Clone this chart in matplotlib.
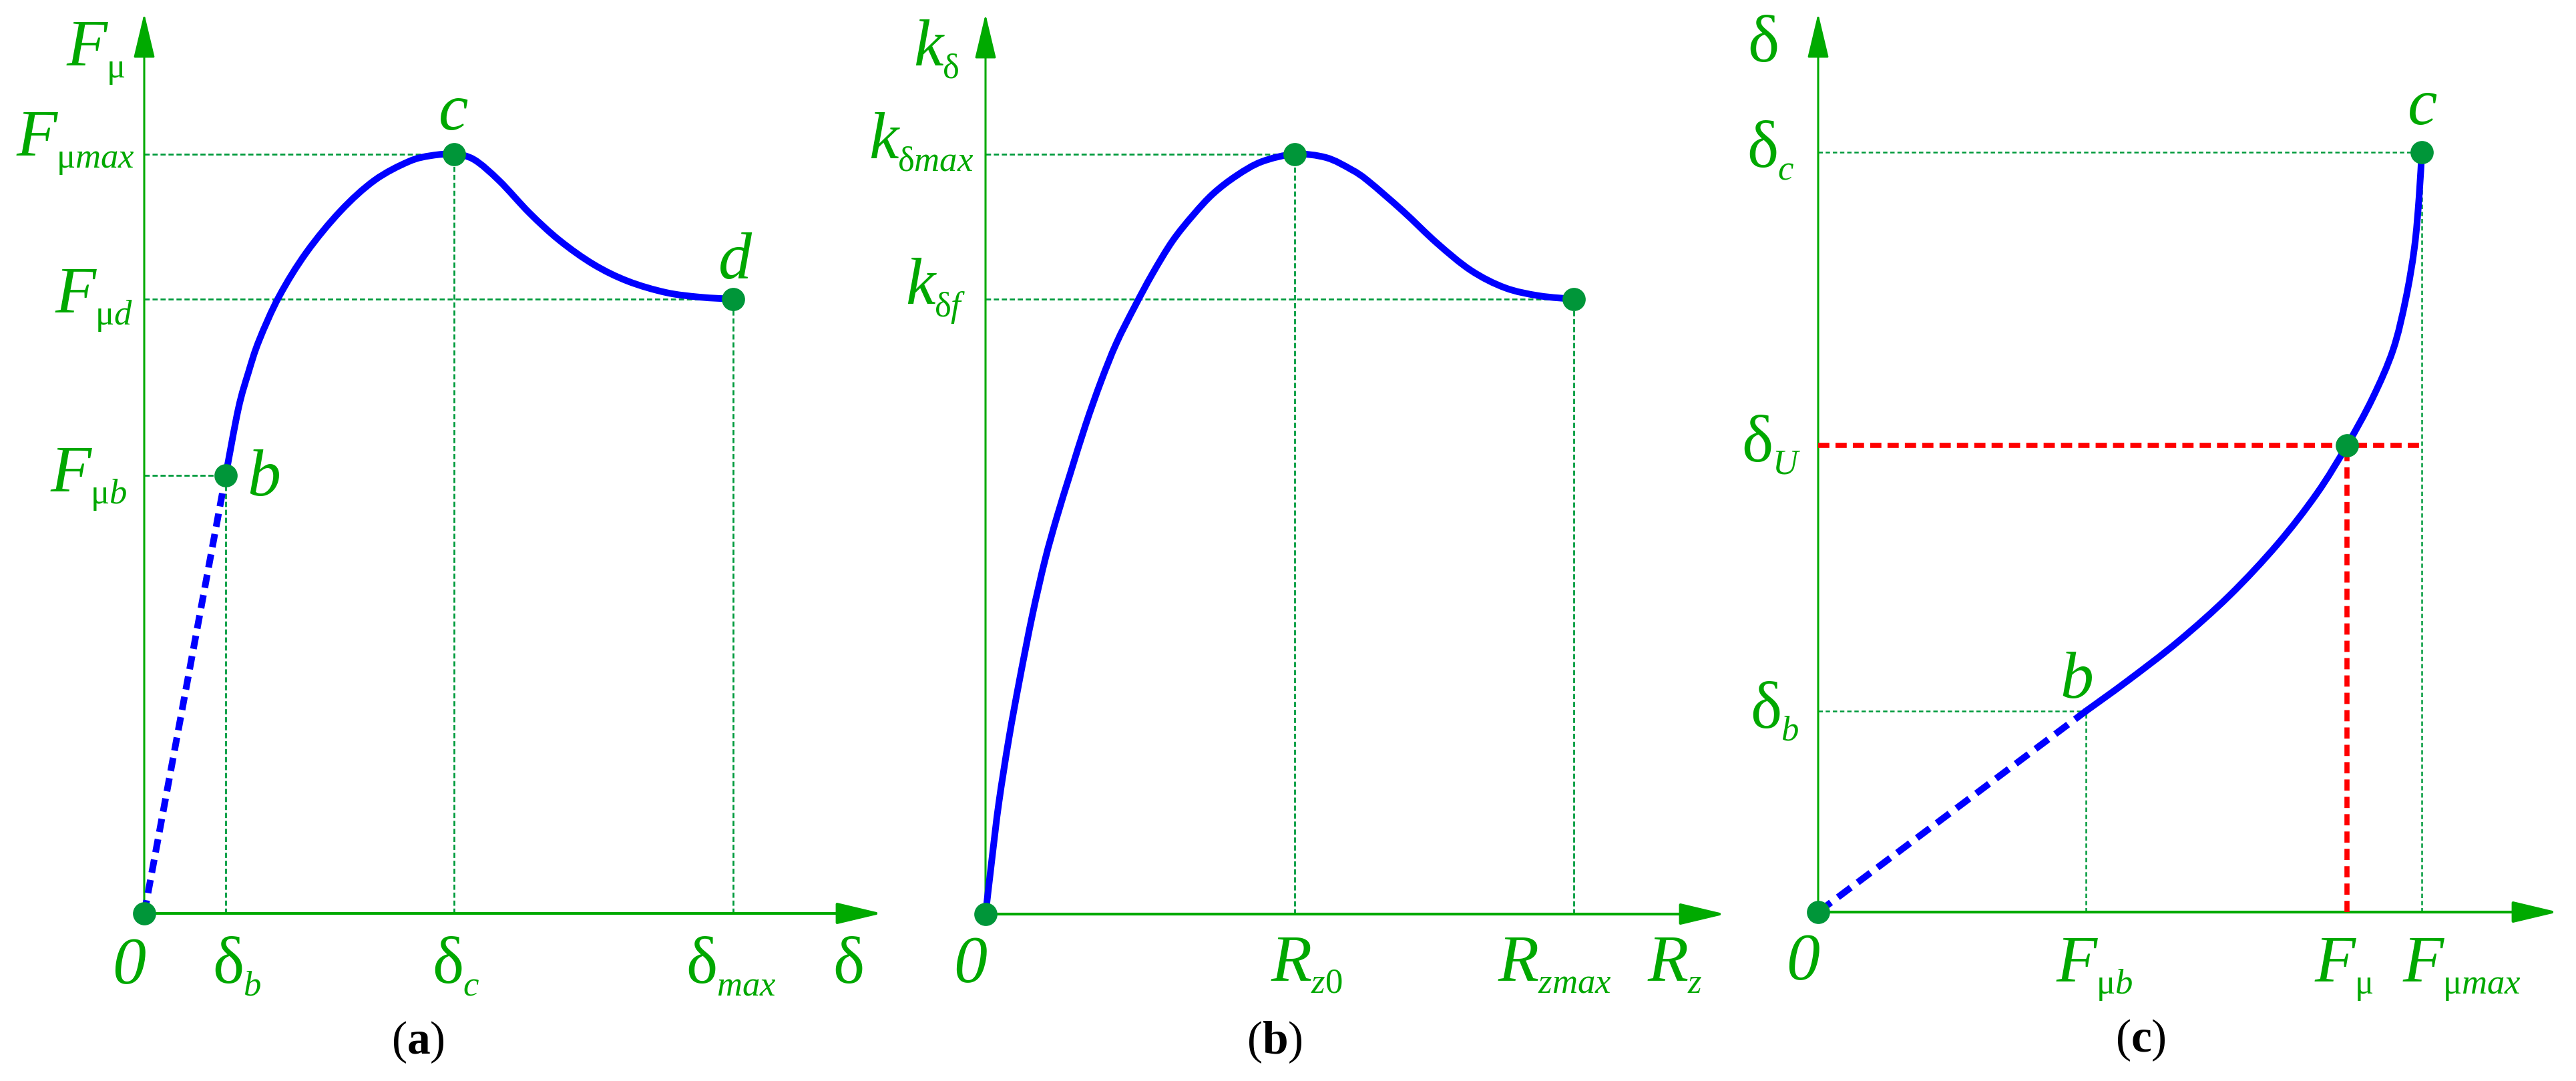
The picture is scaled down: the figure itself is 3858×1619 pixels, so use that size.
import matplotlib
matplotlib.use('Agg')
import matplotlib.pyplot as plt
from matplotlib.path import Path
from matplotlib.patches import PathPatch

plt.rcParams['mathtext.fontset'] = 'custom'
plt.rcParams['mathtext.rm'] = 'Liberation Serif'
plt.rcParams['mathtext.it'] = 'Liberation Serif:italic'
plt.rcParams['mathtext.bf'] = 'Liberation Serif:bold'
plt.rcParams['font.family'] = ['Liberation Serif', 'DejaVu Serif']

# ---------------- data (arbitrary units) ----------------
# panel (a): F_mu as a function of delta
a_pt_delta = [1.22, 4.64, 8.82]            # delta_b, delta_c, delta_max
a_pt_F = [6.56, 11.37, 9.20]               # F_mub, F_mumax, F_mud
a_curve_delta = [1.22, 1.41, 1.56, 1.72, 2.02, 2.43, 2.94, 3.45, 3.96, 4.30, 4.64,
                 4.94, 5.32, 5.77, 6.22, 6.73, 7.24, 7.81, 8.32, 8.82]
a_curve_F = [6.56, 7.56, 8.10, 8.58, 9.24, 9.90, 10.52, 10.98, 11.26, 11.35, 11.37,
             11.29, 10.97, 10.49, 10.08, 9.72, 9.47, 9.30, 9.23, 9.20]
a_x_tick_subs = ['b', 'c', 'max']          # delta_b, delta_c, delta_max
a_y_tick_subs = ['b', 'max', 'd']          # F_mub, F_mumax, F_mud

# panel (b): k_delta as a function of R_z
b_pt_R = [4.63, 8.81]                      # R_z0, R_zmax
b_pt_k = [11.38, 9.21]                     # k_dmax, k_df
b_curve_R = [0.0, 0.10, 0.20, 0.35, 0.51, 0.70, 0.89, 1.07, 1.27, 1.50, 1.73, 1.96, 2.23,
             2.50, 2.80, 3.11, 3.41, 3.76, 4.14, 4.63, 5.10, 5.48, 5.73, 6.25, 6.76, 7.27,
             7.78, 8.29, 8.81]
b_curve_k = [0.0, 0.86, 1.67, 2.63, 3.51, 4.47, 5.30, 5.95, 6.60, 7.33, 7.98, 8.55, 9.09,
             9.59, 10.08, 10.47, 10.79, 11.06, 11.27, 11.38, 11.33, 11.15, 10.98, 10.53,
             10.05, 9.64, 9.38, 9.26, 9.21]
b_x_tick_subs = [r'z\mathit{0}', 'zmax']
b_y_tick_subs = ['max', 'f']

# panel (c): delta as a function of F_mu
c_F_b, c_F_U, c_F_max = 4.01, 7.92, 9.04
c_d_b, c_d_U, c_d_c = 3.01, 6.99, 11.38
c_curve_F = [4.01, 4.63, 5.39, 6.16, 6.88, 7.47, 7.92, 8.30, 8.61, 8.80, 8.93, 9.00, 9.04]
c_curve_d = [3.01, 3.46, 4.05, 4.74, 5.51, 6.27, 6.99, 7.69, 8.42, 9.18, 9.95, 10.71, 11.38]
c_x_tick_subs = ['b', '', 'max']           # F_mub, F_mu, F_mumax
c_y_tick_subs = ['b', 'U', 'c']            # delta_b, delta_U, delta_c

# ---------------- styles ----------------
W, H = 3858, 1619
TXT = '#00A800'
AXC = '#00AA00'
GUIDE_C = '#009A3C'
DOT_C = '#009639'
BLUE = '#0000FF'
RED = '#FF0000'
FS = 72
SUB_FS = 38
CAP_FS = 50
BLUE_LW = 7.2

fig = plt.figure(figsize=(W / 100, H / 100), dpi=100)


def panel(ox, oy):
    ax = fig.add_axes([0, 0, 1, 1])
    ax.set_xlim(-ox / 100, (W - ox) / 100)
    ax.set_ylim((oy - H) / 100, oy / 100)
    ax.axis('off')
    ax.patch.set_alpha(0)
    return ax


def axes_arrows(ax, xtip, ytip):
    ax.annotate('', xy=(xtip, 0), xytext=(0, 0), annotation_clip=False,
                arrowprops=dict(arrowstyle='-|>,head_length=4.2,head_width=1.0',
                                mutation_scale=10, lw=3.0, color=AXC,
                                shrinkA=0, shrinkB=0), zorder=2)
    ax.annotate('', xy=(0, ytip), xytext=(0, 0), annotation_clip=False,
                arrowprops=dict(arrowstyle='-|>,head_length=4.2,head_width=1.0',
                                mutation_scale=10, lw=2.2, color=AXC,
                                shrinkA=0, shrinkB=0), zorder=2)


def guide(ax, x, y, lw=2.0, dashes=(2.8, 1.5)):
    ax.plot([0, x], [y, y], color=GUIDE_C, lw=lw, dashes=dashes, zorder=1)
    ax.plot([x, x], [0, y], color=GUIDE_C, lw=lw, dashes=dashes, zorder=1)


def dot(ax, x, y):
    ax.plot([x], [y], 'o', ms=25, color=DOT_C, mec='none', zorder=6)


def smooth_curve(ax, xs, ys):
    pts = list(zip(xs, ys))
    n = len(pts)
    verts = [pts[0]]
    codes = [Path.MOVETO]
    for i in range(n - 1):
        p0 = pts[i - 1] if i > 0 else pts[i]
        p1 = pts[i]
        p2 = pts[i + 1]
        p3 = pts[i + 2] if i + 2 < n else pts[i + 1]
        c1 = (p1[0] + (p2[0] - p0[0]) / 6, p1[1] + (p2[1] - p0[1]) / 6)
        c2 = (p2[0] - (p3[0] - p1[0]) / 6, p2[1] - (p3[1] - p1[1]) / 6)
        verts += [c1, c2, p2]
        codes += [Path.CURVE4] * 3
    ax.add_patch(PathPatch(Path(verts, codes), fill=False, ec=BLUE, lw=BLUE_LW,
                           capstyle='round', joinstyle='round', zorder=4))


def label(ax, x, y, main, sub=None, italic=True, ha='center'):
    t = ax.text(x, y, main, fontsize=FS, color=TXT, ha=ha, va='baseline',
                style='italic' if italic else 'normal', zorder=7)
    if sub:
        # text bbox bottom sits one "lp" descent (about 15.6 pt) below the baseline
        ax.annotate(sub, xy=(1, 0), xycoords=t, xytext=(-1, 1.6),
                    textcoords='offset points', fontsize=SUB_FS, color=TXT,
                    ha='left', va='baseline', zorder=7, annotation_clip=False)
    return t


def caption(ax, x, y, s):
    ax.text(x, y, s, fontsize=CAP_FS, color='black', ha='center', va='center')


# ---------------- panel (a) ----------------
ax = panel(216, 1368)
for x, y in zip(a_pt_delta, a_pt_F):
    guide(ax, x, y)
axes_arrows(ax, 11.05, 13.48)
ax.plot([0, a_pt_delta[0]], [0, a_pt_F[0]], color=BLUE, lw=BLUE_LW, dashes=(2.0, 1.1),
        zorder=4)
smooth_curve(ax, a_curve_delta, a_curve_F)
dot(ax, 0, 0)
for x, y in zip(a_pt_delta, a_pt_F):
    dot(ax, x, y)
label(ax, -0.86, 12.71, 'F', r'$\mathrm{μ}$')
for sub, (x, y) in zip(a_y_tick_subs, [(-1.10, 6.33), (-1.61, 11.36), (-1.03, 9.01)]):
    label(ax, x, y, 'F', r'$\mathrm{μ}%s$' % sub)
label(ax, 1.79, 6.26, 'b')
label(ax, 4.63, 11.74, 'c')
label(ax, 8.85, 9.51, 'd')
label(ax, -0.23, -1.04, '0')
for sub, x in zip(a_x_tick_subs, [1.26, 4.55, 8.35]):
    label(ax, x, -1.04, 'δ', r'$%s$' % sub, italic=False)
label(ax, 10.55, -1.04, 'δ', italic=False)
caption(ax, 4.10, -1.93, r'$(\mathbf{a})$')

# ---------------- panel (b) ----------------
ax = panel(1476, 1369)
for x, y in zip(b_pt_R, b_pt_k):
    guide(ax, x, y)
axes_arrows(ax, 11.08, 13.48)
smooth_curve(ax, b_curve_R, b_curve_k)
dot(ax, 0, 0)
for x, y in zip(b_pt_R, b_pt_k):
    dot(ax, x, y)
label(ax, -0.86, 12.71, 'k', r'$\mathrm{δ}$')
for sub, (x, y) in zip(b_y_tick_subs, [(-1.53, 11.32), (-0.98, 9.14)]):
    label(ax, x, y, 'k', r'$\mathrm{δ}%s$' % sub)
label(ax, -0.23, -1.01, '0')
for sub, x in zip(b_x_tick_subs, [4.58, 7.98]):
    label(ax, x, -0.99, 'R', r'$%s$' % sub)
label(ax, 10.22, -0.99, 'R', r'$z$')
caption(ax, 4.33, -1.92, r'$(\mathbf{b})$')

# ---------------- panel (c) ----------------
ax = panel(2723, 1366)
guide(ax, c_F_max, c_d_c, lw=1.8, dashes=(2.6, 1.7))
guide(ax, c_F_b, c_d_b, lw=1.8, dashes=(2.6, 1.7))
ax.plot([0, c_F_max], [c_d_U, c_d_U], color=RED, lw=5.5, dashes=(2.2, 1.2), zorder=3)
ax.plot([c_F_U, c_F_U], [0, c_d_U], color=RED, lw=5.5, dashes=(2.2, 1.2), zorder=3)
axes_arrows(ax, 11.08, 13.46)
ax.plot([0, c_F_b], [0, c_d_b], color=BLUE, lw=BLUE_LW, dashes=(2.4, 1.3), zorder=4)
smooth_curve(ax, c_curve_F, c_curve_d)
dot(ax, 0, 0)
dot(ax, c_F_max, c_d_c)
dot(ax, c_F_U, c_d_U)
label(ax, -0.82, 12.74, 'δ', italic=False)
for sub, (x, y) in zip(c_y_tick_subs, [(-0.78, 2.76), (-0.91, 6.75), (-0.83, 11.16)]):
    label(ax, x, y, 'δ', r'$%s$' % sub, italic=False)
label(ax, 9.05, 11.80, 'c')
label(ax, 3.87, 3.21, 'b')
label(ax, -0.23, -1.00, '0')
for sub, x in zip(c_x_tick_subs, [3.87, 7.74, 9.06]):
    label(ax, x, -1.03, 'F', r'$\mathrm{μ}%s$' % sub)
caption(ax, 4.83, -1.92, r'$(\mathbf{c})$')

fig.savefig('out.png', dpi=100, facecolor='white')
